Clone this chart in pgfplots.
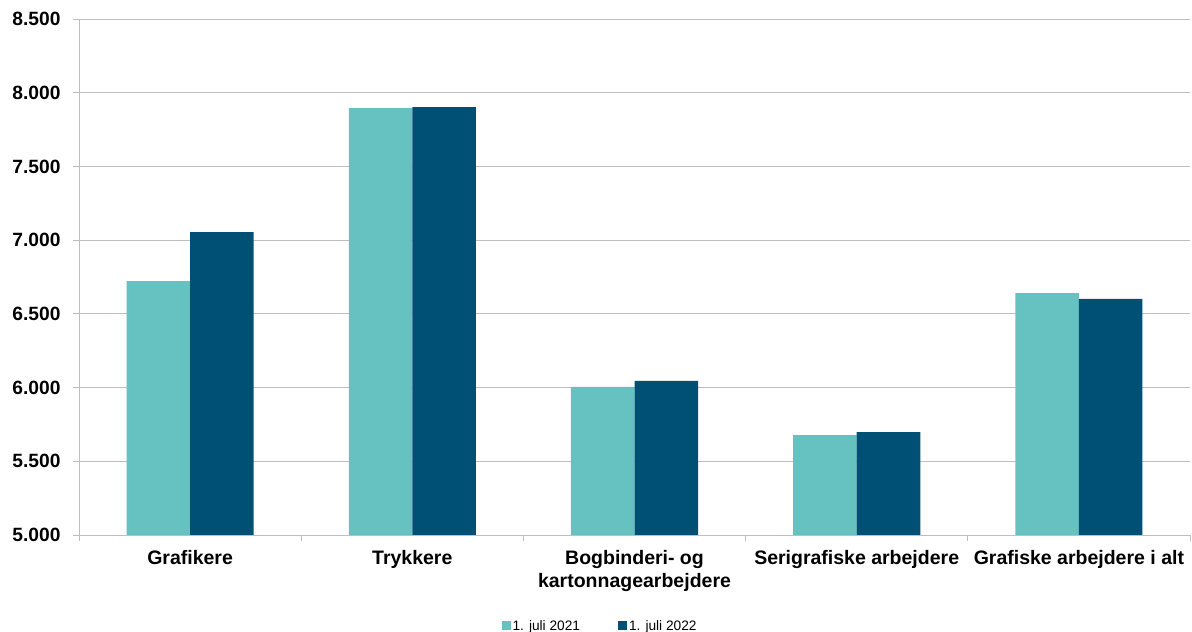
\documentclass[border=0pt]{standalone}
\usepackage{pgfplots}
\pgfplotsset{compat=1.18}
\usepackage{fontspec}
\setmainfont{Liberation Sans}
\definecolor{teal21}{RGB}{102,194,192}
\definecolor{navy22}{RGB}{0,79,116}
\definecolor{gridgray}{RGB}{190,190,190}
\begin{document}
\begin{tikzpicture}[x=1pt,y=1pt]
\path[use as bounding box] (0,0) rectangle (1192,632);
\begin{axis}[
  at={(79pt,97pt)}, anchor=south west,
  scale only axis,
  width=1111pt, height=516pt,
  ybar=0pt,
  bar width=0.286,
  xmin=-0.5, xmax=4.5,
  ymin=5000, ymax=8500,
  axis x line*=bottom, axis y line*=left,
  axis line style={-, draw=gridgray, line width=0.9pt},
  ytick={5000,5500,...,8500},
  xtick={-0.5,0.5,1.5,2.5,3.5,4.5},
  xticklabels={},
  extra x ticks={0,1,2,3,4},
  extra x tick labels={Grafikere,Trykkere,{Bogbinderi- og\\kartonnagearbejdere},Serigrafiske arbejdere,Grafiske arbejdere i alt},
  extra x tick style={major tick length=0pt, grid=none},
  major tick length=6pt,
  xtick align=outside,
  ytick align=outside,
  ytick pos=left,
  y tick style={draw=gridgray, line width=0.9pt},
  x tick style={draw=gridgray, line width=0.9pt},
  ymajorgrids=true,
  grid style={draw=gridgray, line width=0.9pt},
  scaled y ticks=false,
  /pgf/number format/.cd, 1000 sep={.}, assume math mode=true,
  /pgfplots/.cd,
  yticklabel style={font=\fontsize{19.2}{22}\selectfont\bfseries, xshift=-9pt},
  xticklabel style={font=\fontsize{19.5}{23}\selectfont\bfseries, align=center, anchor=north, yshift=-12pt},
  legend style={at={(0.469,-0.176)}, anchor=center, draw=none, legend columns=-1,
    font=\fontsize{13.7}{15}\selectfont, /tikz/every even column/.append style={column sep=36pt}},
  legend image code/.code={\fill[#1] (-5pt,-4.5pt) rectangle (4pt,4.5pt);},
  legend cell align=left,
]
\addplot[fill=teal21, draw=none] coordinates {(0,6722) (1,7896) (2,6004) (3,5678) (4,6641)};
\addplot[fill=navy22, draw=none] coordinates {(0,7055) (1,7903) (2,6045) (3,5697) (4,6601)};
\legend{1. juli 2021, 1. juli 2022}
\end{axis}
\end{tikzpicture}
\end{document}
